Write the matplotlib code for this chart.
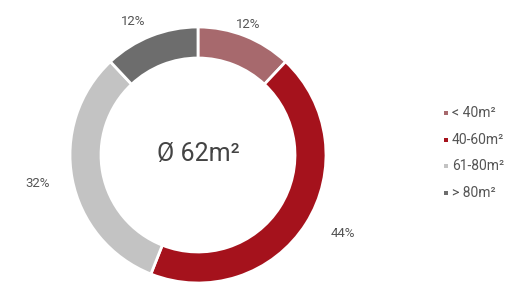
import matplotlib
matplotlib.use("Agg")
import matplotlib.pyplot as plt
import numpy as np

categories = ["< 40m²", "40-60m²", "61-80m²", "> 80m²"]
values = [12, 44, 32, 12]
colors = ["#a7696d", "#a5121c", "#c3c3c3", "#6d6d6d"]
center_label = "Ø 62m²"

plt.rcParams['font.family'] = ['Roboto', 'DejaVu Sans']

W, H = 520, 283
fig = plt.figure(figsize=(W / 100, H / 100), dpi=100)
ax = fig.add_axes([0, 0, 1, 1])

cx, cy, R = 198, H - 155, 128
width = 31
wedges, _ = ax.pie(values, colors=colors, startangle=90, counterclock=False,
                   center=(cx, cy), radius=R,
                   wedgeprops=dict(width=width, edgecolor='white', linewidth=2))
ax.set_xlim(0, W)
ax.set_ylim(0, H)
ax.set_aspect('equal')
ax.axis('off')

label_dist = [1.09, 1.29, 1.27, 1.16]
label_rot = [0.6, 4.1, -0.8, 4.4]
total = sum(values)
cum = 0
for v, d, r in zip(values, label_dist, label_rot):
    mid = 90 - (cum + v / 2) / total * 360 + r
    cum += v
    a = np.deg2rad(mid)
    ax.text(cx + R * d * np.cos(a), cy + R * d * np.sin(a), f"{v}%",
            ha='center', va='center', fontsize=9.5, color='#555555')

ax.text(cx, cy + 1, center_label, ha='center', va='center', fontsize=18, color='#444444')

ly = [113, 140, 166, 193]
for c, lab, y in zip(colors, categories, ly):
    ax.scatter([446], [H - y], marker='s', s=10, color=c, edgecolors='none')
    ax.text(452, H - y, lab, ha='left', va='center', fontsize=10, color='#555555')

fig.savefig("out.png", dpi=100, facecolor='white')
